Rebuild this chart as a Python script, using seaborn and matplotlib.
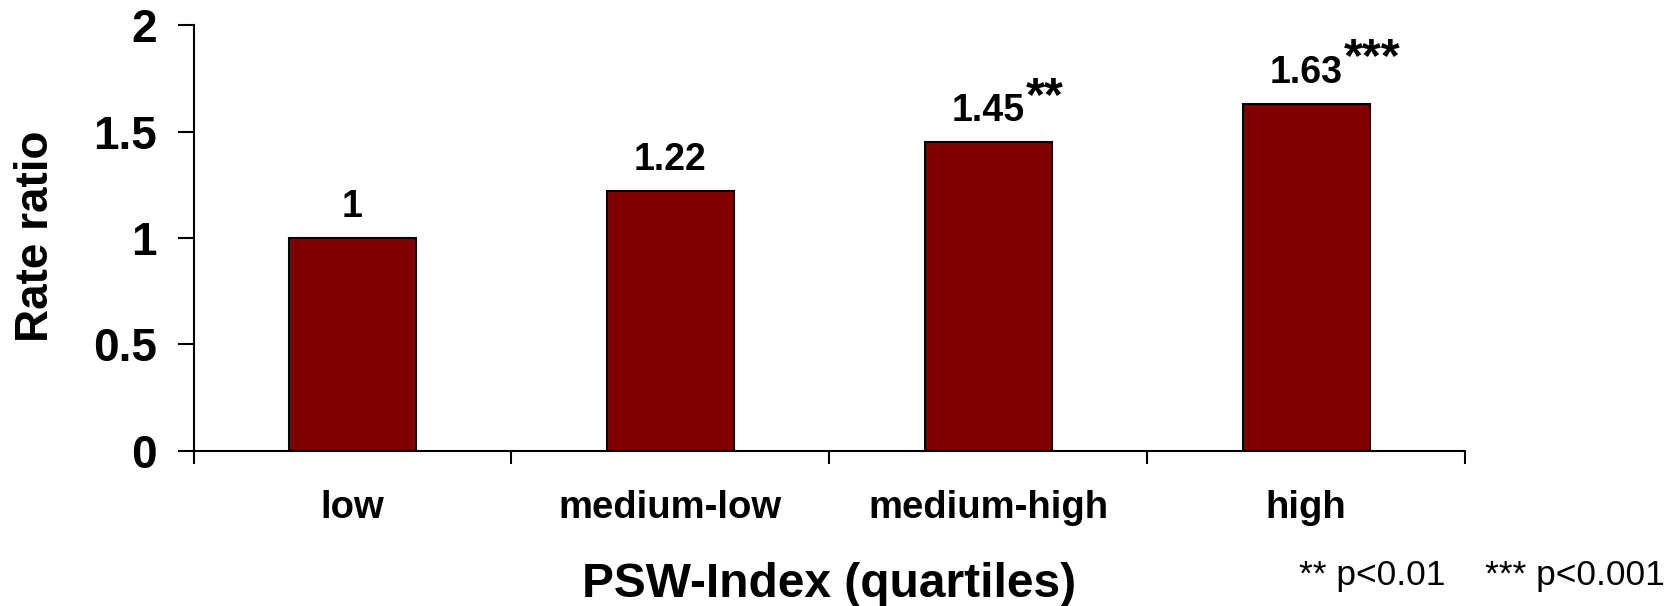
import matplotlib
matplotlib.use("Agg")
import matplotlib.pyplot as plt
import seaborn as sns
import pandas as pd

# values
categories = ["low", "medium-low", "medium-high", "high"]
rate_ratio = [1.0, 1.22, 1.45, 1.63]
value_labels = ["1", "1.22", "1.45", "1.63"]
stars = ["", "", "**", "***"]
y_ticks = [0, 0.5, 1, 1.5, 2]
y_tick_labels = ["0", "0.5", "1", "1.5", "2"]
footnote = "** p<0.01    *** p<0.001"

sns.set_style("white")
plt.rcParams["font.family"] = ["Liberation Sans", "DejaVu Sans"]
plt.rcParams["font.weight"] = "bold"
plt.rcParams["text.color"] = "black"
plt.rcParams["axes.labelcolor"] = "black"
plt.rcParams["xtick.color"] = "black"
plt.rcParams["ytick.color"] = "black"

df = pd.DataFrame({"quartile": categories, "rr": rate_ratio})

fig = plt.figure(figsize=(16.77, 6.06), dpi=100)
ax = fig.add_axes([0.1154, 0.2558, 0.7582, 0.7029])

sns.barplot(data=df, x="quartile", y="rr", color="#800000", saturation=1,
            width=0.4, edgecolor="black", linewidth=1.5, ax=ax)

ax.set_xlim(-0.5, 3.5)
ax.set_ylim(0, 2)

for side in ["top", "right"]:
    ax.spines[side].set_visible(False)
for side in ["left", "bottom"]:
    ax.spines[side].set_color("black")
    ax.spines[side].set_linewidth(1.5)

# ticks between categories, labels in the middle
ax.set_xticks([-0.5, 0.5, 1.5, 2.5, 3.5])
ax.set_xticklabels([])
ax.set_xticks(range(len(categories)), minor=True)
ax.set_xticklabels(categories, minor=True, fontsize=27.5, fontweight="bold")
ax.tick_params(axis="x", which="major", bottom=True, direction="out",
               length=9.5, width=1.5, color="black")
ax.tick_params(axis="x", which="minor", bottom=True, length=0, pad=28)

ax.set_yticks(y_ticks)
ax.set_yticklabels(y_tick_labels, fontsize=33, fontweight="bold")
ax.tick_params(axis="y", left=True, direction="out", length=11.5,
               width=1.5, color="black", pad=15)

ax.set_ylabel("Rate ratio", fontsize=33, fontweight="bold")
ax.yaxis.set_label_coords(-0.124, 0.5035)
ax.yaxis.label.set_va("center")

ax.set_xlabel("PSW-Index (quartiles)", fontsize=34.5, fontweight="bold")
ax.xaxis.set_label_coords(0.5, -0.343)
ax.xaxis.label.set_va("baseline")

# value labels + significance stars
for i, (v, lbl, s) in enumerate(zip(rate_ratio, value_labels, stars)):
    ax.annotate(lbl, xy=(i, v), xytext=(0, 15), textcoords="offset points",
                ha="center", va="baseline", fontsize=27, fontweight="bold")
    if s:
        ax.annotate(s, xy=(i, v), xytext=(27, 23.5), textcoords="offset points",
                    ha="left", va="baseline", fontsize=35, fontweight="bold")

fig.text(0.9925, 0.0347, footnote, ha="right", va="baseline",
         fontsize=25.5, fontweight="normal")

fig.savefig("out.png", dpi=100)
